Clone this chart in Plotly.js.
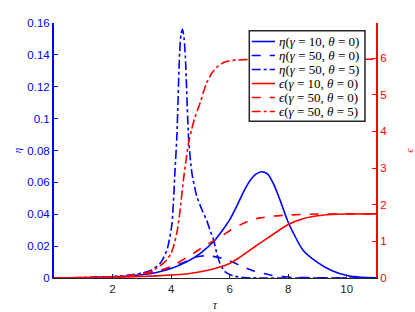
<!DOCTYPE html>
<html><head><meta charset="utf-8">
<script src="https://cdn.plot.ly/plotly-3.0.1.min.js"></script>
<style>html,body{margin:0;padding:0;background:#fff}#c{width:415px;height:312px}</style>
</head><body><div id="c"></div>
<script>
// eta(gamma=10, theta=0)
const tauEta10 = [0,1,2,2.5,3,3.5,4,4.5,5,5.5,6,6.24,6.5,6.7,6.9,7.1,7.3,7.5,7.72,8,8.5,9,9.5,10,10.5,11];
const eta10 = [0,0.0002,0.0007,0.0012,0.002,0.0035,0.006,0.0098,0.0155,0.0238,0.0365,0.0450,0.0550,0.0612,0.0652,0.0667,0.0652,0.059,0.049,0.035,0.0176,0.0098,0.0045,0.0016,0.0005,0.0002];
// eta(gamma=50, theta=0)
const tauEta50 = [0,1,2,2.5,3,3.5,4,4.41,4.76,5.05,5.34,5.68,6,6.46,6.8,7.38,8,9,10,11];
const eta50 = [0,0.0002,0.0008,0.0015,0.0026,0.0042,0.0068,0.0096,0.0128,0.0138,0.0138,0.0127,0.0107,0.0071,0.0046,0.0019,0.0006,0.0001,0,0];
// eta(gamma=50, theta=5)
const tauEta50t5 = [0,1,2,2.5,3,3.3,3.63,3.86,4.03,4.13,4.2,4.29,4.34,4.39,4.44,4.49,4.6,4.71,4.88,5.05,5.22,5.33,5.45,5.56,5.67,5.84,6.12,6.5,7,11];
const eta50t5 = [0,0.0002,0.0008,0.0016,0.003,0.0048,0.0092,0.0176,0.034,0.066,0.09,0.141,0.153,0.156,0.151,0.138,0.087,0.066,0.051,0.043,0.036,0.030,0.024,0.0155,0.0092,0.004,0.0013,0.0003,0,0];
// epsilon(gamma=10, theta=0)
const tauEps10 = [0,1,2,3,4,4.5,5,5.5,5.9,6.3,6.69,7,7.5,8,8.5,9,9.5,10,11];
const eps10 = [0,0.01,0.02,0.04,0.08,0.11,0.17,0.26,0.36,0.54,0.76,0.93,1.2,1.46,1.62,1.7,1.735,1.745,1.75];
// epsilon(gamma=50, theta=0)
const tauEps50 = [0,1,2,2.5,3,3.5,4,4.2,4.76,5.1,5.5,5.68,6,6.36,6.7,7.04,7.5,8,9,10,11];
const eps50 = [0,0.01,0.03,0.06,0.11,0.18,0.31,0.40,0.67,0.85,1.04,1.12,1.29,1.45,1.57,1.64,1.69,1.72,1.745,1.75,1.75];
// epsilon(gamma=50, theta=5)
const tauEps50t5 = [0,1,2,2.5,3,3.4,3.7,3.86,4.0,4.08,4.2,4.3,4.42,4.5,4.6,4.7,4.8,5.0,5.2,5.4,5.6,5.8,6.0,6.5,7,8,11];
const eps50t5 = [0,0.01,0.03,0.06,0.1,0.22,0.38,0.5,0.68,0.85,1.25,1.8,2.67,3.15,3.7,4.05,4.35,4.8,5.3,5.6,5.78,5.88,5.93,5.96,5.97,5.97,5.97];

const names = [
  '<i>η</i>(<i>γ</i> = 10, <i>θ</i> = 0)',
  '<i>η</i>(<i>γ</i> = 50, <i>θ</i> = 0)',
  '<i>η</i>(<i>γ</i> = 50, <i>θ</i> = 5)',
  '<i>ϵ</i>(<i>γ</i> = 10, <i>θ</i> = 0)',
  '<i>ϵ</i>(<i>γ</i> = 50, <i>θ</i> = 0)',
  '<i>ϵ</i>(<i>γ</i> = 50, <i>θ</i> = 5)'
];
const BLUE = 'rgb(0,0,255)', RED = 'rgb(255,0,0)';
const colors = [BLUE, BLUE, BLUE, RED, RED, RED];
const dashes = ['solid', 'dash', 'dashdot', 'solid', 'dash', 'dashdot'];
function tr(x, y, i, axis) {
  return {x: x, y: y, name: names[i], type: 'scatter', mode: 'lines', yaxis: axis,
    line: {color: colors[i], dash: dashes[i], width: 1.6, shape: 'spline', smoothing: 0.6}};
}
const data = [
  tr(tauEta10, eta10, 0, 'y'),
  tr(tauEta50, eta50, 1, 'y'),
  tr(tauEta50t5, eta50t5, 2, 'y'),
  tr(tauEps10, eps10, 3, 'y2'),
  tr(tauEps50, eps50, 4, 'y2'),
  tr(tauEps50t5, eps50t5, 5, 'y2')
];

// custom legend (box, sample lines, labels) in paper coordinates
const legBox = {x0: 0.6065, x1: 0.9658, y0: 0.6145, y1: 0.9698};
const legRowY = [0.9275, 0.8725, 0.8176, 0.7627, 0.7078, 0.6529];
const shapes = [{type: 'rect', xref: 'paper', yref: 'paper', x0: legBox.x0, x1: legBox.x1,
  y0: legBox.y0, y1: legBox.y1, fillcolor: '#fff', line: {color: '#262626', width: 1.5}, layer: 'above'}];
const annotations = [];
legRowY.forEach(function (yy, i) {
  shapes.push({type: 'line', xref: 'paper', yref: 'paper', x0: 0.614, x1: 0.6863, y0: yy, y1: yy,
    line: {color: colors[i], dash: dashes[i], width: 1.6}, layer: 'above'});
  annotations.push({xref: 'paper', yref: 'paper', x: 0.692, y: yy, xanchor: 'left', yanchor: 'middle',
    showarrow: false, text: names[i],
    font: {family: 'Liberation Serif, DejaVu Serif, serif', size: 13, color: '#000'}});
});

const tickFont = {family: 'Liberation Sans, Arial, sans-serif', size: 11.5};
const layout = {
  width: 415, height: 312,
  margin: {l: 54, r: 39, t: 23, b: 34},
  paper_bgcolor: '#fff', plot_bgcolor: '#fff',
  showlegend: false,
  shapes: shapes, annotations: annotations,
  xaxis: {range: [0, 11], tickvals: [2,4,6,8,10], ticks: 'inside', ticklen: 4,
    tickcolor: '#262626', showline: true, linecolor: '#262626', linewidth: 1,
    showgrid: false, zeroline: false,
    tickfont: Object.assign({color: '#262626'}, tickFont),
    title: {text: '<i>τ</i>', font: {family: 'Liberation Serif, serif', size: 12, color: '#262626'}, standoff: 6}},
  yaxis: {range: [0, 0.16], dtick: 0.02, tick0: 0, ticks: 'inside', ticklen: 4,
    tickcolor: BLUE, showline: true, linecolor: BLUE, linewidth: 2,
    showgrid: false, zeroline: false,
    tickfont: Object.assign({color: BLUE}, tickFont),
    title: {text: '<i>η</i>', font: {family: 'Liberation Serif, serif', size: 11, color: BLUE}}},
  yaxis2: {range: [0, 6.96], tickvals: [0,1,2,3,4,5,6], overlaying: 'y', side: 'right',
    ticks: 'inside', ticklen: 4, tickcolor: RED, showline: true, linecolor: RED, linewidth: 2,
    showgrid: false, zeroline: false,
    tickfont: Object.assign({color: RED}, tickFont),
    title: {text: '<i>ϵ</i>', font: {family: 'Liberation Serif, DejaVu Serif, serif', size: 11, color: RED}}}
};
Plotly.newPlot('c', data, layout, {displayModeBar: false, staticPlot: true});
</script></body></html>
